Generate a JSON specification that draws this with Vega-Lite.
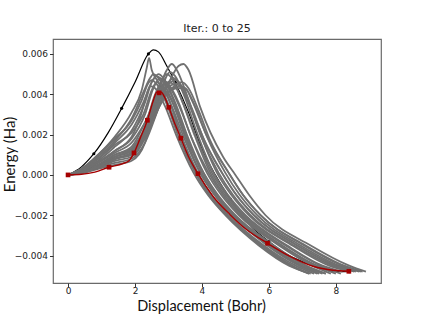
{
  "$schema": "https://vega.github.io/schema/vega-lite/v6.json",
  "width": 328,
  "height": 244,
  "autosize": "none",
  "padding": {"left": 53, "top": 39, "right": 43, "bottom": 35},
  "background": "white",
  "config": {
    "view": {"stroke": "#6a6a6a", "strokeWidth": 1.2},
    "axis": {"domain": false, "grid": false, "tickColor": "#333", "tickSize": 3.5, "labelFont": "DejaVu Sans", "labelFontSize": 9, "labelColor": "#222", "titleFont": "Lato", "titleFontSize": 15, "titleFontWeight": "normal", "titleColor": "#111"},
    "title": {"font": "DejaVu Sans", "fontSize": 11, "fontWeight": "normal", "color": "#222", "offset": 5}
  },
  "title": "Iter.: 0 to 25",
  "datasets": {
    "black": [
      {"x":0,"y":0},{"x":0.4,"y":0.0004},{"x":0.77,"y":0.00105},{"x":1.2,"y":0.0021},{"x":1.6,"y":0.0033},{"x":2.0,"y":0.0046},{"x":2.4,"y":0.006},{"x":2.55,"y":0.0062},{"x":2.7,"y":0.0061},{"x":2.95,"y":0.0054},{"x":3.2,"y":0.0046},{"x":3.6,"y":0.0031},{"x":3.95,"y":0.0015},{"x":4.4,"y":0.0},{"x":4.85,"y":-0.0012},{"x":5.5,"y":-0.0026},{"x":6.0,"y":-0.0033},{"x":6.5,"y":-0.0039},{"x":7.0,"y":-0.0043},{"x":7.5,"y":-0.0046},{"x":8.0,"y":-0.0048},{"x":8.4,"y":-0.0048}
    ],
    "blackpts": [
      {"x":0,"y":0},{"x":0.77,"y":0.00105},{"x":1.6,"y":0.0033},{"x":2.4,"y":0.006},{"x":3.2,"y":0.0046},{"x":3.95,"y":0.0015},{"x":4.85,"y":-0.0012},{"x":6.0,"y":-0.0033},{"x":8.4,"y":-0.0048}
    ],
    "gray": [
      {"c":1,"x":0,"y":0},{"c":1,"x":0.4,"y":0.0003},{"c":1,"x":0.9,"y":0.001},{"c":1,"x":1.4,"y":0.0019},{"c":1,"x":1.9,"y":0.0031},{"c":1,"x":2.2,"y":0.0042},{"c":1,"x":2.35,"y":0.0053},{"c":1,"x":2.42,"y":0.0058},{"c":1,"x":2.5,"y":0.0052},{"c":1,"x":2.7,"y":0.0046},{"c":1,"x":3.0,"y":0.0035},{"c":1,"x":3.3,"y":0.0022},{"c":1,"x":3.8,"y":0.0002},{"c":1,"x":4.23,"y":-0.001},{"c":1,"x":4.75,"y":-0.002},{"c":1,"x":5.8,"y":-0.0035},{"c":1,"x":6.7,"y":-0.0045},{"c":1,"x":7.2,"y":-0.0049},
      {"c":2,"x":0,"y":0},{"c":2,"x":0.4,"y":0.00028},{"c":2,"x":0.9,"y":0.0009},{"c":2,"x":1.4,"y":0.0017},{"c":2,"x":1.9,"y":0.0028},{"c":2,"x":2.25,"y":0.0041},{"c":2,"x":2.45,"y":0.0048},{"c":2,"x":2.55,"y":0.005},{"c":2,"x":2.7,"y":0.0048},{"c":2,"x":3.0,"y":0.0038},{"c":2,"x":3.35,"y":0.0021},{"c":2,"x":3.85,"y":0.0002},{"c":2,"x":4.28,"y":-0.001},{"c":2,"x":4.8,"y":-0.002},{"c":2,"x":5.85,"y":-0.0035},{"c":2,"x":6.8,"y":-0.0045},{"c":2,"x":7.35,"y":-0.0049},
      {"c":3,"x":0,"y":0},{"c":3,"x":0.4,"y":0.00022},{"c":3,"x":0.9,"y":0.0007},{"c":3,"x":1.4,"y":0.0014},{"c":3,"x":1.9,"y":0.0022},{"c":3,"x":2.3,"y":0.0036},{"c":3,"x":2.5,"y":0.0046},{"c":3,"x":2.65,"y":0.0049},{"c":3,"x":2.8,"y":0.0047},{"c":3,"x":3.1,"y":0.0037},{"c":3,"x":3.45,"y":0.0021},{"c":3,"x":3.95,"y":0.0001},{"c":3,"x":4.38,"y":-0.001},{"c":3,"x":4.9,"y":-0.002},{"c":3,"x":6.0,"y":-0.0035},{"c":3,"x":6.95,"y":-0.0045},{"c":3,"x":7.5,"y":-0.0049},
      {"c":4,"x":0,"y":0},{"c":4,"x":0.4,"y":0.0002},{"c":4,"x":0.9,"y":0.0006},{"c":4,"x":1.4,"y":0.0012},{"c":4,"x":1.9,"y":0.0018},{"c":4,"x":2.3,"y":0.003},{"c":4,"x":2.55,"y":0.0043},{"c":4,"x":2.75,"y":0.0048},{"c":4,"x":2.9,"y":0.0046},{"c":4,"x":3.2,"y":0.0036},{"c":4,"x":3.55,"y":0.002},{"c":4,"x":4.05,"y":0.0001},{"c":4,"x":4.48,"y":-0.001},{"c":4,"x":5.0,"y":-0.002},{"c":4,"x":6.15,"y":-0.0035},{"c":4,"x":7.1,"y":-0.0045},{"c":4,"x":7.7,"y":-0.0049},
      {"c":5,"x":0,"y":0},{"c":5,"x":0.4,"y":0.00015},{"c":5,"x":0.9,"y":0.0005},{"c":5,"x":1.4,"y":0.001},{"c":5,"x":1.9,"y":0.0013},{"c":5,"x":2.3,"y":0.0024},{"c":5,"x":2.6,"y":0.004},{"c":5,"x":2.85,"y":0.0047},{"c":5,"x":3.0,"y":0.0045},{"c":5,"x":3.3,"y":0.0036},{"c":5,"x":3.65,"y":0.002},{"c":5,"x":4.15,"y":0.0001},{"c":5,"x":4.58,"y":-0.001},{"c":5,"x":5.1,"y":-0.002},{"c":5,"x":6.3,"y":-0.0035},{"c":5,"x":7.3,"y":-0.0045},{"c":5,"x":7.85,"y":-0.0049},
      {"c":6,"x":0,"y":0},{"c":6,"x":0.4,"y":0.00015},{"c":6,"x":0.9,"y":0.0005},{"c":6,"x":1.4,"y":0.0009},{"c":6,"x":1.9,"y":0.0012},{"c":6,"x":2.3,"y":0.0022},{"c":6,"x":2.65,"y":0.004},{"c":6,"x":2.95,"y":0.005},{"c":6,"x":3.1,"y":0.0048},{"c":6,"x":3.4,"y":0.0037},{"c":6,"x":3.75,"y":0.0021},{"c":6,"x":4.25,"y":0.0001},{"c":6,"x":4.68,"y":-0.001},{"c":6,"x":5.2,"y":-0.002},{"c":6,"x":6.4,"y":-0.0035},{"c":6,"x":7.45,"y":-0.0045},{"c":6,"x":8.0,"y":-0.0048},
      {"c":7,"x":0,"y":0},{"c":7,"x":0.4,"y":0.00014},{"c":7,"x":0.9,"y":0.00045},{"c":7,"x":1.4,"y":0.0008},{"c":7,"x":1.9,"y":0.0011},{"c":7,"x":2.3,"y":0.0019},{"c":7,"x":2.7,"y":0.0038},{"c":7,"x":3.05,"y":0.0051},{"c":7,"x":3.2,"y":0.0049},{"c":7,"x":3.5,"y":0.0038},{"c":7,"x":3.85,"y":0.0021},{"c":7,"x":4.35,"y":0.0001},{"c":7,"x":4.78,"y":-0.001},{"c":7,"x":5.3,"y":-0.002},{"c":7,"x":6.55,"y":-0.0035},{"c":7,"x":7.6,"y":-0.0045},{"c":7,"x":8.2,"y":-0.0048},
      {"c":8,"x":0,"y":0},{"c":8,"x":0.4,"y":0.00015},{"c":8,"x":0.9,"y":0.0005},{"c":8,"x":1.4,"y":0.001},{"c":8,"x":1.9,"y":0.0014},{"c":8,"x":2.3,"y":0.0026},{"c":8,"x":2.7,"y":0.0042},{"c":8,"x":2.95,"y":0.0052},{"c":8,"x":3.1,"y":0.0055},{"c":8,"x":3.25,"y":0.0052},{"c":8,"x":3.5,"y":0.0042},{"c":8,"x":3.85,"y":0.0025},{"c":8,"x":4.45,"y":0.0001},{"c":8,"x":4.88,"y":-0.001},{"c":8,"x":5.4,"y":-0.002},{"c":8,"x":6.7,"y":-0.0035},{"c":8,"x":7.8,"y":-0.0045},{"c":8,"x":8.45,"y":-0.0048},
      {"c":9,"x":0,"y":0},{"c":9,"x":0.4,"y":0.0001},{"c":9,"x":0.9,"y":0.0004},{"c":9,"x":1.4,"y":0.0008},{"c":9,"x":1.9,"y":0.001},{"c":9,"x":2.3,"y":0.0018},{"c":9,"x":2.7,"y":0.0033},{"c":9,"x":3.05,"y":0.0047},{"c":9,"x":3.3,"y":0.0054},{"c":9,"x":3.45,"y":0.0055},{"c":9,"x":3.6,"y":0.0052},{"c":9,"x":3.94,"y":0.0034},{"c":9,"x":4.63,"y":0.0009},{"c":9,"x":5.0,"y":0.0},{"c":9,"x":5.41,"y":-0.001},{"c":9,"x":5.9,"y":-0.002},{"c":9,"x":7.25,"y":-0.0035},{"c":9,"x":8.4,"y":-0.0045},{"c":9,"x":8.9,"y":-0.0048},
      {"c":10,"x":0,"y":0},{"c":10,"x":0.4,"y":0.00012},{"c":10,"x":0.9,"y":0.0004},{"c":10,"x":1.4,"y":0.0008},{"c":10,"x":1.9,"y":0.0011},{"c":10,"x":2.3,"y":0.002},{"c":10,"x":2.7,"y":0.0034},{"c":10,"x":3.0,"y":0.0041},{"c":10,"x":3.3,"y":0.0043},{"c":10,"x":3.5,"y":0.0043},{"c":10,"x":3.7,"y":0.0037},{"c":10,"x":4.1,"y":0.0021},{"c":10,"x":4.8,"y":0.0001},{"c":10,"x":5.23,"y":-0.001},{"c":10,"x":5.75,"y":-0.002},{"c":10,"x":7.1,"y":-0.0035},{"c":10,"x":8.25,"y":-0.0045},{"c":10,"x":8.8,"y":-0.0048},
      {"c":11,"x":0,"y":0},{"c":11,"x":0.4,"y":0.00013},{"c":11,"x":0.9,"y":0.00045},{"c":11,"x":1.4,"y":0.0009},{"c":11,"x":1.9,"y":0.0012},{"c":11,"x":2.3,"y":0.0021},{"c":11,"x":2.7,"y":0.0035},{"c":11,"x":3.05,"y":0.0042},{"c":11,"x":3.35,"y":0.0044},{"c":11,"x":3.55,"y":0.0042},{"c":11,"x":3.8,"y":0.0034},{"c":11,"x":4.15,"y":0.0019},{"c":11,"x":4.7,"y":0.0001},{"c":11,"x":5.13,"y":-0.001},{"c":11,"x":5.65,"y":-0.002},{"c":11,"x":6.95,"y":-0.0035},{"c":11,"x":8.1,"y":-0.0045},{"c":11,"x":8.7,"y":-0.0048},
      {"c":12,"x":0,"y":0},{"c":12,"x":0.4,"y":0.00015},{"c":12,"x":0.9,"y":0.0005},{"c":12,"x":1.4,"y":0.0009},{"c":12,"x":1.9,"y":0.0013},{"c":12,"x":2.3,"y":0.0023},{"c":12,"x":2.7,"y":0.0037},{"c":12,"x":3.0,"y":0.0044},{"c":12,"x":3.25,"y":0.0045},{"c":12,"x":3.45,"y":0.0041},{"c":12,"x":3.75,"y":0.003},{"c":12,"x":4.1,"y":0.0016},{"c":12,"x":4.6,"y":0.0001},{"c":12,"x":5.03,"y":-0.001},{"c":12,"x":5.55,"y":-0.002},{"c":12,"x":6.85,"y":-0.0035},{"c":12,"x":8.0,"y":-0.0045},{"c":12,"x":8.6,"y":-0.0048},
      {"c":13,"x":0,"y":0},{"c":13,"x":0.4,"y":0.0001},{"c":13,"x":0.9,"y":0.00038},{"c":13,"x":1.4,"y":0.0007},{"c":13,"x":1.9,"y":0.0009},{"c":13,"x":2.3,"y":0.0019},{"c":13,"x":2.6,"y":0.0036},{"c":13,"x":2.9,"y":0.0045},{"c":13,"x":3.05,"y":0.0043},{"c":13,"x":3.35,"y":0.0033},{"c":13,"x":3.7,"y":0.0018},{"c":13,"x":4.2,"y":0.0001},{"c":13,"x":4.63,"y":-0.001},{"c":13,"x":5.15,"y":-0.002},{"c":13,"x":6.35,"y":-0.0035},{"c":13,"x":7.4,"y":-0.0045},{"c":13,"x":8.0,"y":-0.0049},
      {"c":14,"x":0,"y":0},{"c":14,"x":0.4,"y":0.00025},{"c":14,"x":0.9,"y":0.0008},{"c":14,"x":1.4,"y":0.0015},{"c":14,"x":1.9,"y":0.0021},{"c":14,"x":2.25,"y":0.003},{"c":14,"x":2.5,"y":0.0042},{"c":14,"x":2.65,"y":0.0046},{"c":14,"x":2.8,"y":0.0044},{"c":14,"x":3.1,"y":0.0034},{"c":14,"x":3.45,"y":0.0019},{"c":14,"x":3.95,"y":0.0001},{"c":14,"x":4.38,"y":-0.001},{"c":14,"x":4.9,"y":-0.002},{"c":14,"x":5.95,"y":-0.0035},{"c":14,"x":6.9,"y":-0.0045},{"c":14,"x":7.45,"y":-0.0049},
      {"c":15,"x":0,"y":0},{"c":15,"x":0.4,"y":0.0003},{"c":15,"x":0.9,"y":0.001},{"c":15,"x":1.4,"y":0.0018},{"c":15,"x":1.9,"y":0.0027},{"c":15,"x":2.2,"y":0.0037},{"c":15,"x":2.38,"y":0.0045},{"c":15,"x":2.5,"y":0.0047},{"c":15,"x":2.65,"y":0.0045},{"c":15,"x":2.95,"y":0.0035},{"c":15,"x":3.3,"y":0.0019},{"c":15,"x":3.8,"y":0.0001},{"c":15,"x":4.21,"y":-0.001},{"c":15,"x":4.72,"y":-0.002},{"c":15,"x":5.75,"y":-0.0035},{"c":15,"x":6.65,"y":-0.0045},{"c":15,"x":7.2,"y":-0.0049},
      {"c":16,"x":0,"y":0},{"c":16,"x":0.4,"y":0.0001},{"c":16,"x":0.9,"y":0.00035},{"c":16,"x":1.4,"y":0.0006},{"c":16,"x":1.9,"y":0.0008},{"c":16,"x":2.3,"y":0.0016},{"c":16,"x":2.7,"y":0.0033},{"c":16,"x":3.0,"y":0.0046},{"c":16,"x":3.15,"y":0.0045},{"c":16,"x":3.45,"y":0.0035},{"c":16,"x":3.8,"y":0.002},{"c":16,"x":4.3,"y":0.0001},{"c":16,"x":4.73,"y":-0.001},{"c":16,"x":5.25,"y":-0.002},{"c":16,"x":6.5,"y":-0.0035},{"c":16,"x":7.55,"y":-0.0045},{"c":16,"x":8.15,"y":-0.0049},
      {"c":17,"x":0,"y":0},{"c":17,"x":0.4,"y":0.00013},{"c":17,"x":0.9,"y":0.00042},{"c":17,"x":1.4,"y":0.0008},{"c":17,"x":1.9,"y":0.0011},{"c":17,"x":2.3,"y":0.0021},{"c":17,"x":2.7,"y":0.0036},{"c":17,"x":3.0,"y":0.0046},{"c":17,"x":3.15,"y":0.0048},{"c":17,"x":3.3,"y":0.0046},{"c":17,"x":3.6,"y":0.0036},{"c":17,"x":3.95,"y":0.002},{"c":17,"x":4.5,"y":0.0001},{"c":17,"x":4.93,"y":-0.001},{"c":17,"x":5.45,"y":-0.002},{"c":17,"x":6.75,"y":-0.0035},{"c":17,"x":7.9,"y":-0.0045},{"c":17,"x":8.45,"y":-0.0048},
      {"c":18,"x":0,"y":0},{"c":18,"x":0.4,"y":0.00008},{"c":18,"x":0.9,"y":0.0003},{"c":18,"x":1.4,"y":0.0005},{"c":18,"x":1.9,"y":0.0007},{"c":18,"x":2.3,"y":0.0016},{"c":18,"x":2.55,"y":0.0032},{"c":18,"x":2.8,"y":0.0043},{"c":18,"x":2.95,"y":0.0041},{"c":18,"x":3.25,"y":0.0031},{"c":18,"x":3.6,"y":0.0016},{"c":18,"x":4.05,"y":0.0001},{"c":18,"x":4.46,"y":-0.001},{"c":18,"x":4.95,"y":-0.002},{"c":18,"x":6.1,"y":-0.0035},{"c":18,"x":7.1,"y":-0.0045},{"c":18,"x":7.7,"y":-0.0049},
      {"c":19,"x":0,"y":0},{"c":19,"x":0.4,"y":0.0002},{"c":19,"x":0.9,"y":0.0006},{"c":19,"x":1.4,"y":0.0011},{"c":19,"x":1.9,"y":0.0016},{"c":19,"x":2.3,"y":0.0026},{"c":19,"x":2.7,"y":0.0039},{"c":19,"x":3.0,"y":0.0045},{"c":19,"x":3.2,"y":0.0047},{"c":19,"x":3.4,"y":0.0044},{"c":19,"x":3.7,"y":0.0033},{"c":19,"x":4.05,"y":0.0018},{"c":19,"x":4.6,"y":0.0001},{"c":19,"x":5.03,"y":-0.001},{"c":19,"x":5.55,"y":-0.002},{"c":19,"x":6.85,"y":-0.0035},{"c":19,"x":8.0,"y":-0.0045},{"c":19,"x":8.55,"y":-0.0048},
      {"c":20,"x":0,"y":0},{"c":20,"x":0.4,"y":0.00025},{"c":20,"x":0.9,"y":0.0008},{"c":20,"x":1.4,"y":0.0016},{"c":20,"x":1.9,"y":0.0025},{"c":20,"x":2.25,"y":0.0036},{"c":20,"x":2.5,"y":0.0046},{"c":20,"x":2.7,"y":0.005},{"c":20,"x":2.85,"y":0.0048},{"c":20,"x":3.15,"y":0.0037},{"c":20,"x":3.5,"y":0.0021},{"c":20,"x":4.0,"y":0.0001},{"c":20,"x":4.43,"y":-0.001},{"c":20,"x":4.95,"y":-0.002},{"c":20,"x":6.05,"y":-0.0035},{"c":20,"x":7.0,"y":-0.0045},{"c":20,"x":7.6,"y":-0.0049},
      {"c":21,"x":0,"y":0},{"c":21,"x":0.4,"y":0.0002},{"c":21,"x":0.9,"y":0.00065},{"c":21,"x":1.4,"y":0.0012},{"c":21,"x":1.9,"y":0.0019},{"c":21,"x":2.2,"y":0.0031},{"c":21,"x":2.35,"y":0.004},{"c":21,"x":2.45,"y":0.0044},{"c":21,"x":2.6,"y":0.0043},{"c":21,"x":2.9,"y":0.0034},{"c":21,"x":3.25,"y":0.0019},{"c":21,"x":3.75,"y":0.0001},{"c":21,"x":4.18,"y":-0.001},{"c":21,"x":4.7,"y":-0.002},{"c":21,"x":5.7,"y":-0.0035},{"c":21,"x":6.6,"y":-0.0045},{"c":21,"x":7.25,"y":-0.0049},
      {"c":22,"x":0,"y":0},{"c":22,"x":0.4,"y":0.00012},{"c":22,"x":0.9,"y":0.0004},{"c":22,"x":1.4,"y":0.0008},{"c":22,"x":1.9,"y":0.001},{"c":22,"x":2.3,"y":0.0019},{"c":22,"x":2.7,"y":0.0033},{"c":22,"x":3.05,"y":0.0042},{"c":22,"x":3.4,"y":0.0046},{"c":22,"x":3.6,"y":0.0043},{"c":22,"x":3.9,"y":0.0032},{"c":22,"x":4.25,"y":0.0017},{"c":22,"x":4.8,"y":0.0001},{"c":22,"x":5.23,"y":-0.001},{"c":22,"x":5.75,"y":-0.002},{"c":22,"x":7.05,"y":-0.0035},{"c":22,"x":8.2,"y":-0.0045},{"c":22,"x":8.75,"y":-0.0048}
    ],
    "red": [
      {"x":0,"y":0},{"x":0.4,"y":0.00003},{"x":0.8,"y":0.00014},{"x":1.225,"y":0.00038},{"x":1.64,"y":0.00056},{"x":1.82,"y":0.0007},{"x":1.97,"y":0.00109},{"x":2.15,"y":0.0018},{"x":2.37,"y":0.00271},{"x":2.55,"y":0.0037},{"x":2.65,"y":0.0041},{"x":2.78,"y":0.0041},{"x":2.9,"y":0.0038},{"x":3.01,"y":0.00335},{"x":3.2,"y":0.0025},{"x":3.37,"y":0.00182},{"x":3.6,"y":0.0009},{"x":3.88,"y":0.00006},{"x":4.33,"y":-0.00106},{"x":4.84,"y":-0.00197},{"x":5.33,"y":-0.00271},{"x":5.96,"y":-0.00339},{"x":6.63,"y":-0.00404},{"x":7.32,"y":-0.00453},{"x":7.92,"y":-0.00473},{"x":8.39,"y":-0.00478}
    ],
    "redpts": [
      {"x":0,"y":0},{"x":1.225,"y":0.00038},{"x":1.97,"y":0.00109},{"x":2.37,"y":0.00271},{"x":2.72,"y":0.00407},{"x":3.01,"y":0.00335},{"x":3.37,"y":0.00182},{"x":3.88,"y":0.00006},{"x":5.96,"y":-0.00339},{"x":8.39,"y":-0.00478}
    ]
  },
  "encoding": {
    "x": {"field": "x", "type": "quantitative", "scale": {"domain": [-0.45, 9.35], "nice": false, "zero": false},
      "axis": {"values": [0, 2, 4, 6, 8], "title": "Displacement (Bohr)", "titleX": 148, "titleY": 23, "titleFontSize": 14.5, "titleBaseline": "middle", "labelPadding": 0}},
    "y": {"field": "y", "type": "quantitative", "scale": {"domain": [-0.00536, 0.00674], "nice": false, "zero": false},
      "axis": {"values": [-0.004, -0.002, 0, 0.002, 0.004, 0.006], "format": ".3f", "title": "Energy (Ha)", "titleX": -44, "titleY": 115, "titleBaseline": "middle", "titleAlign": "center", "titleAngle": -90}}
  },
  "layer": [
    {"data": {"name": "black"}, "mark": {"type": "line", "color": "#000000", "strokeWidth": 1.2, "interpolate": "monotone"}},
    {"data": {"name": "blackpts"}, "mark": {"type": "point", "filled": true, "color": "#000000", "size": 10, "opacity": 1}},
    {"data": {"name": "gray"}, "mark": {"type": "line", "color": "#707070", "strokeWidth": 1.8, "interpolate": "monotone"}, "encoding": {"detail": {"field": "c", "type": "nominal"}}},
    {"data": {"name": "red"}, "mark": {"type": "line", "color": "#a50000", "strokeWidth": 1.4, "interpolate": "monotone"}},
    {"data": {"name": "redpts"}, "mark": {"type": "point", "filled": true, "shape": "square", "color": "#a50000", "size": 22, "opacity": 1}}
  ]
}
